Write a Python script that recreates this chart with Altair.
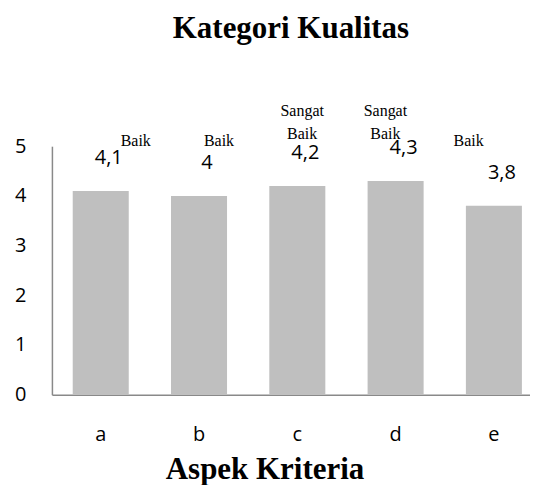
import altair as alt
import pandas as pd

criteria = ["a", "b", "c", "d", "e"]
scores = [4.1, 4.0, 4.2, 4.3, 3.8]
quality = ["Baik", "Baik", "Sangat Baik", "Sangat Baik", "Baik"]

df = pd.DataFrame({
    "kriteria": criteria,
    "nilai": scores,
    "label": [f"{v:g}".replace(".", ",") for v in scores],
    "kategori": quality,
})

base = alt.Chart(df)

x_band = alt.X(
    "kriteria:N",
    sort=criteria,
    scale=alt.Scale(paddingInner=0.43, paddingOuter=0.147, align=0.72),
    axis=alt.Axis(
        title="Aspek Kriteria",
        labelAngle=0,
        labelFont="Open Sans",
        labelFontSize=20,
        labelColor="#000000",
        labelPadding=30,
        ticks=False,
        domainColor="#898989",
        domainWidth=1.5,
        titleFont="Liberation Serif",
        titleFontSize=31,
        titleFontWeight="bold",
        titleColor="#000000",
        titleX=213,
        titleY=84,
        titleAlign="center",
        titleBaseline="alphabetic",
    ),
)

y_scale = alt.Scale(domain=[0, 5], nice=False)

bars = base.mark_bar(color="#bfbfbf").encode(
    x=x_band,
    y=alt.Y(
        "nilai:Q",
        scale=y_scale,
        axis=alt.Axis(
            title=None,
            values=[0, 1, 2, 3, 4, 5],
            format="d",
            grid=False,
            ticks=False,
            labelFont="Open Sans",
            labelFontSize=20,
            labelColor="#000000",
            labelPadding=26,
            domainColor="#898989",
            domainWidth=1.5,
        ),
    ),
)

values_text = base.mark_text(
    font="Open Sans", fontSize=20, color="#000000", baseline="middle", dy=-33, dx=8
).encode(
    x=alt.X("kriteria:N", sort=criteria),
    y=alt.Y("nilai:Q", scale=y_scale),
    text="label:N",
)

bar_layer = alt.layer(bars, values_text)

cat_x = alt.X(
    "kriteria:N",
    sort=criteria,
    scale=alt.Scale(type="point", range=[84, 417.5], padding=0),
    axis=None,
)

cat_single = base.transform_filter("indexof(datum.kategori, ' ') < 0").mark_text(
    font="Liberation Serif", fontSize=16, color="#000000",
    baseline="bottom", dy=3,
).encode(
    x=cat_x,
    y=alt.datum(5, scale=y_scale),
    text="kategori:N",
)

cat_double = base.transform_filter("indexof(datum.kategori, ' ') >= 0").mark_text(
    font="Liberation Serif", fontSize=16, color="#000000",
    baseline="bottom", lineBreak=" ", lineHeight=23, dy=-27,
).encode(
    x=cat_x,
    y=alt.datum(5, scale=y_scale),
    text="kategori:N",
)

cat_layer = alt.layer(cat_single, cat_double)

chart = alt.layer(bar_layer, cat_layer).resolve_scale(x="independent").properties(
    width=479,
    height=249,
    padding={"left": 6, "top": 5, "right": 0, "bottom": 0},
    title=alt.TitleParams(
        "Kategori Kualitas",
        font="Liberation Serif",
        fontSize=31,
        fontWeight="bold",
        color="#000000",
        anchor="middle",
        offset=58,
    ),
).configure_view(stroke=None)

chart.save("out.html", embed_options={"renderer": "svg", "actions": False})
